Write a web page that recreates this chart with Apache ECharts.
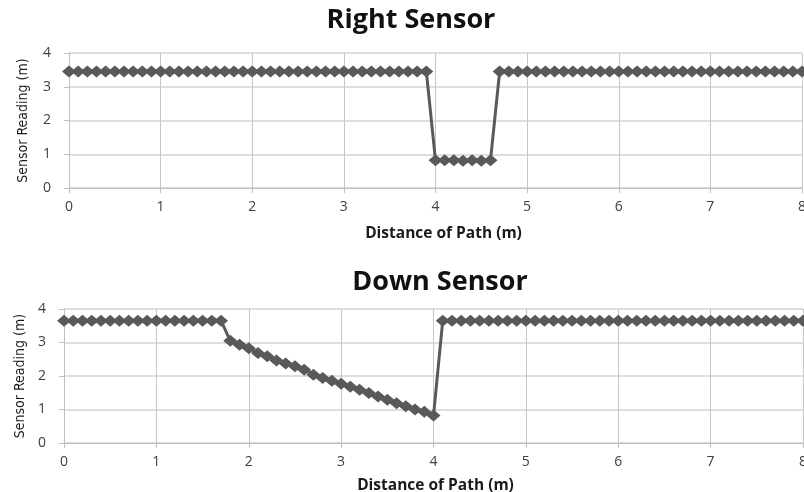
<!DOCTYPE html>
<html><head><meta charset="utf-8">
<script src="https://cdn.jsdelivr.net/npm/echarts@6/dist/echarts.min.js"></script>
<style>html,body{margin:0;padding:0;background:#fff}#c{width:804px;height:492px}</style>
</head><body><div id="c"></div>
<script>
// Sample positions along the path (m), every 0.1 m from 0 to 8
const distance = [
0.0,0.1,0.2,0.3,0.4,0.5,0.6,0.7,0.8,0.9,
1.0,1.1,1.2,1.3,1.4,1.5,1.6,1.7,1.8,1.9,
2.0,2.1,2.2,2.3,2.4,2.5,2.6,2.7,2.8,2.9,
3.0,3.1,3.2,3.3,3.4,3.5,3.6,3.7,3.8,3.9,
4.0,4.1,4.2,4.3,4.4,4.5,4.6,4.7,4.8,4.9,
5.0,5.1,5.2,5.3,5.4,5.5,5.6,5.7,5.8,5.9,
6.0,6.1,6.2,6.3,6.4,6.5,6.6,6.7,6.8,6.9,
7.0,7.1,7.2,7.3,7.4,7.5,7.6,7.7,7.8,7.9,
8.0];
const rightSensor = [
3.45,3.45,3.45,3.45,3.45,3.45,3.45,3.45,3.45,3.45,
3.45,3.45,3.45,3.45,3.45,3.45,3.45,3.45,3.45,3.45,
3.45,3.45,3.45,3.45,3.45,3.45,3.45,3.45,3.45,3.45,
3.45,3.45,3.45,3.45,3.45,3.45,3.45,3.45,3.45,3.45,
0.82,0.82,0.82,0.81,0.82,0.81,0.82,3.45,3.45,3.45,
3.45,3.45,3.45,3.45,3.45,3.45,3.45,3.45,3.45,3.45,
3.45,3.45,3.45,3.45,3.45,3.45,3.45,3.45,3.45,3.45,
3.45,3.45,3.45,3.45,3.45,3.45,3.45,3.45,3.45,3.45,
3.45];
const downSensor = [
3.65,3.65,3.65,3.65,3.65,3.65,3.65,3.65,3.65,3.65,
3.65,3.65,3.65,3.65,3.65,3.65,3.65,3.65,3.05,2.93,
2.83,2.69,2.59,2.46,2.37,2.29,2.19,2.04,1.94,1.86,
1.77,1.68,1.59,1.49,1.39,1.29,1.19,1.10,1.00,0.93,
0.82,3.65,3.65,3.65,3.65,3.65,3.65,3.65,3.65,3.65,
3.65,3.65,3.65,3.65,3.65,3.65,3.65,3.65,3.65,3.65,
3.65,3.65,3.65,3.65,3.65,3.65,3.65,3.65,3.65,3.65,
3.65,3.65,3.65,3.65,3.65,3.65,3.65,3.65,3.65,3.65,
3.65];
const titles = ['Right Sensor', 'Down Sensor'];
const xName = 'Distance of Path (m)';
const yName = 'Sensor Reading (m)';

const FONT = '"Open Sans", Lato, sans-serif';
const chart = echarts.init(document.getElementById('c'));
function xAxis(i){
  return {
    type:'value', gridIndex:i, min:0, max:8, interval:1,
    name:xName, nameLocation:'middle', nameGap:i===0?38:35,
    nameTextStyle:{fontFamily:FONT,fontWeight:'bold',fontSize:15.5,color:'#1a1a1a',
      padding:i===0?[0,0,0,16]:[0,0,0,4]},
    axisLine:{show:true,lineStyle:{color:'#bfbfbf',width:1}},
    axisTick:{show:true,length:5,inside:false,lineStyle:{color:'#bfbfbf'}},
    axisLabel:{fontFamily:FONT,fontSize:14,color:'#404040',margin:12},
    splitLine:{show:true,lineStyle:{color:'#c8c8c8',width:1}}
  };
}
function yAxis(i){
  return {
    type:'value', gridIndex:i, min:0, max:4, interval:1,
    name:yName, nameLocation:'middle', nameGap:i===0?39:34, nameRotate:90,
    nameTextStyle:{fontFamily:'"DejaVu Sans Condensed", "Liberation Sans Narrow", sans-serif',fontSize:14,color:'#1a1a1a'},
    axisLine:{show:true,lineStyle:{color:'#bfbfbf',width:1}},
    axisTick:{show:true,length:5,lineStyle:{color:'#bfbfbf'}},
    axisLabel:{fontFamily:FONT,fontSize:14,color:'#404040',margin:18},
    splitLine:{show:true,lineStyle:{color:'#d2d2d2',width:1.5}}
  };
}
function pairs(ys){ return distance.map((d,k)=>[d, ys[k]]); }
function series(i, ys){
  return {
    type:'line', xAxisIndex:i, yAxisIndex:i, data:pairs(ys),
    symbol:'diamond', symbolSize:[14,12], showSymbol:true,
    lineStyle:{color:'#595959',width:3},
    itemStyle:{color:'#595959'},
    animation:false, clip:false
  };
}
chart.setOption({
  backgroundColor:'#fff',
  animation:false,
  title:[
    {text:titles[0], left:406, top:2, textAlign:'center',
     textStyle:{fontFamily:FONT,fontWeight:'bold',fontSize:27,color:'#111'}},
    {text:titles[1], left:435, top:264, textAlign:'center',
     textStyle:{fontFamily:FONT,fontWeight:'bold',fontSize:27,color:'#111'}}
  ],
  grid:[
    {left:69, top:53, right:2, bottom:304, outerBoundsMode:'none', containLabel:false},
    {left:64, top:309, right:1, bottom:49, outerBoundsMode:'none', containLabel:false}
  ],
  xAxis:[xAxis(0), xAxis(1)],
  yAxis:[yAxis(0), yAxis(1)],
  series:[series(0, rightSensor), series(1, downSensor)]
});
</script></body></html>
